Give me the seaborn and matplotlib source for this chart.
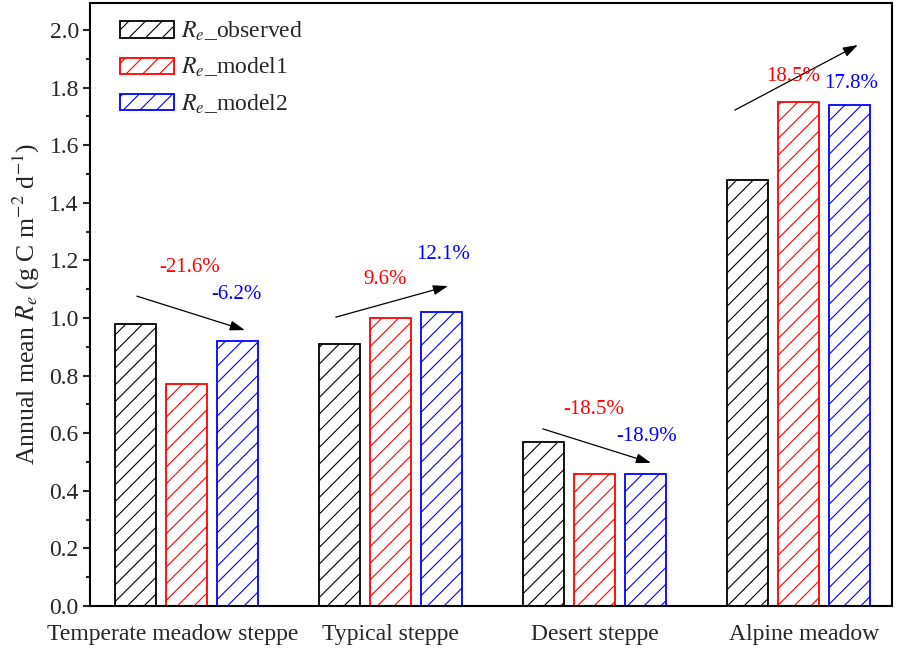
import numpy as np
import pandas as pd
import matplotlib
matplotlib.use("Agg")
import matplotlib.pyplot as plt
import matplotlib.transforms as mtransforms
import seaborn as sns
from matplotlib.patches import Patch

# Data
sites = ["Temperate meadow steppe", "Typical steppe", "Desert steppe", "Alpine meadow"]
observed = [0.98, 0.91, 0.57, 1.48]
model1 = [0.77, 1.00, 0.46, 1.75]
model2 = [0.92, 1.02, 0.46, 1.74]
series = [r"$R_e$_observed", r"$R_e$_model1", r"$R_e$_model2"]
colors = ["black", "red", "blue"]

# percent change labels (model1, model2) per site
pct_model1 = ["-21.6%", "9.6%", "-18.5%", "18.5%"]
pct_model2 = ["-6.2%", "12.1%", "-18.9%", "17.8%"]

df = pd.DataFrame({
    "site": sites * 3,
    "value": observed + model1 + model2,
    "series": [s for s in series for _ in sites],
})

sns.set_style("ticks")
plt.rcParams["font.family"] = ["Liberation Serif", "DejaVu Serif"]
plt.rcParams["mathtext.fontset"] = "stix"
plt.rcParams["hatch.linewidth"] = 0.8

fig = plt.figure(figsize=(8.98, 6.5), dpi=100)
ax = fig.add_axes([0.1002, 0.0677, 0.893, 0.9277])

sns.barplot(data=df, x="site", y="value", hue="series", order=sites,
            hue_order=series, palette=colors, width=0.75, gap=0.2,
            ax=ax, legend=False)

for cont, col in zip(ax.containers, colors):
    for p in cont:
        p.set_facecolor("white")
        p.set_edgecolor(col)
        p.set_hatch("//")
        p.set_linewidth(1.3)

# arrows and labels (data coords)
arrows = [((-0.245, 1.076), (0.284, 0.958)),
          ((0.73, 1.003), (1.28, 1.111)),
          ((1.745, 0.615), (2.275, 0.497)),
          ((2.686, 1.722), (3.289, 1.948))]
pos1 = [(0.015, 1.174), (0.97, 1.135), (1.995, 0.681), (2.97, 1.84)]
pos2 = [(0.245, 1.08), (1.255, 1.219), (2.255, 0.590), (3.255, 1.815)]

for (s, e), p1, p2, t1, t2 in zip(arrows, pos1, pos2, pct_model1, pct_model2):
    ax.annotate("", xy=e, xytext=s,
                arrowprops=dict(arrowstyle="-|>,head_length=0.9,head_width=0.3",
                                color="black", lw=0.9, shrinkA=0, shrinkB=0))
    ax.text(p1[0], p1[1], t1, color="red", fontsize=15, ha="center", va="center")
    ax.text(p2[0], p2[1], t2, color="blue", fontsize=15, ha="center", va="center")

ax.set_xlim(-0.475, 3.456)
ax.set_ylim(0, 2.094)
ax.set_yticks(np.arange(0, 2.01, 0.2))
ax.set_yticks(np.arange(0.1, 2.01, 0.2), minor=True)
ax.set_yticklabels([f"{v:.1f}" for v in np.arange(0, 2.01, 0.2)])
ax.tick_params(axis="y", which="major", direction="out", length=5, width=1.5,
               labelsize=17, pad=3)
ax.tick_params(axis="y", which="minor", direction="out", length=3, width=1.5)
ax.tick_params(axis="x", length=0, labelsize=17, pad=13)
ax.set_xlabel("")
ax.set_ylabel(r"Annual mean $R_e$ (g C m$^{-2}$ d$^{-1}$)", fontsize=18.5, labelpad=5)

# first category label sits a bit left of its group in the original
shifts = [-0.14, 0, 0, 0.05]
for lab, dx in zip(ax.get_xticklabels(), shifts):
    lab.set_transform(lab.get_transform() +
                      mtransforms.ScaledTranslation(dx, 0, fig.dpi_scale_trans))

for sp in ax.spines.values():
    sp.set_visible(True)
    sp.set_linewidth(1.5)
    sp.set_color("black")

# legend
handles = [Patch(facecolor="white", edgecolor=c, hatch="//", linewidth=1.3)
           for c in colors]
ax.legend(handles, series, loc="upper left", bbox_to_anchor=(0.037, 0.972),
          frameon=False, fontsize=17, handlelength=2.3, handleheight=0.7,
          handletextpad=0.3, labelspacing=0.55, borderpad=0, borderaxespad=0)

fig.savefig("out.png", dpi=100)
